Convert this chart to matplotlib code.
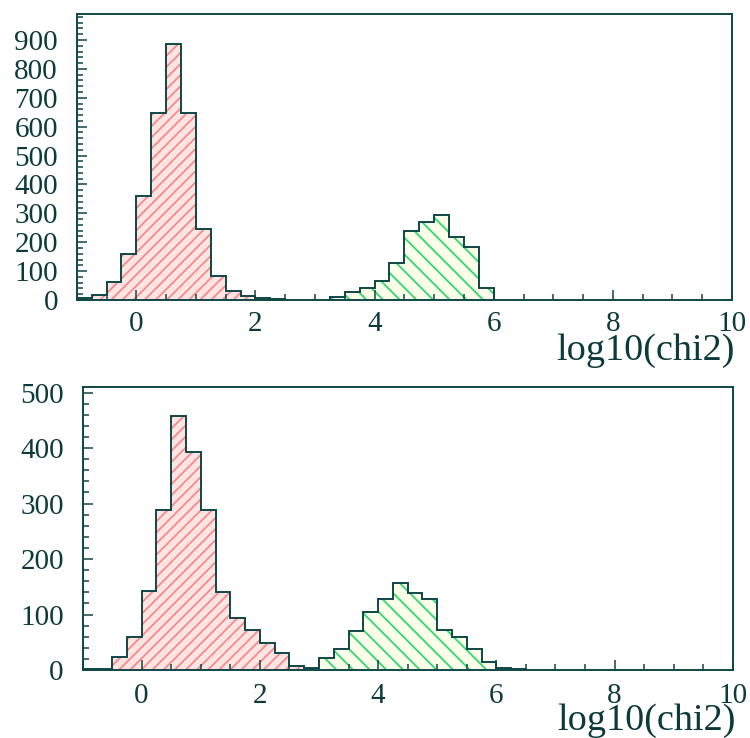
import matplotlib
matplotlib.use("Agg")
import matplotlib.pyplot as plt
from matplotlib.ticker import MultipleLocator

# top panel: log10(chi2) histograms, bin width 0.25
top_red_edges = [-1.0, -0.75, -0.5, -0.25, 0.0, 0.25, 0.5, 0.75, 1.0, 1.25,
                 1.5, 1.75, 2.0, 2.25, 2.5]
top_red_counts = [6, 17, 61, 159, 361, 646, 885, 646, 246, 83, 32, 14, 6, 2]
top_green_edges = [3.25, 3.5, 3.75, 4.0, 4.25, 4.5, 4.75, 5.0, 5.25, 5.5,
                   5.75, 6.0]
top_green_counts = [12, 28, 40, 66, 129, 239, 271, 293, 219, 183, 43]

# bottom panel
bot_red_edges = [-1.0, -0.75, -0.5, -0.25, 0.0, 0.25, 0.5, 0.75, 1.0, 1.25,
                 1.5, 1.75, 2.0, 2.25, 2.5, 2.75, 3.0]
bot_red_counts = [1, 1, 24, 59, 143, 288, 457, 393, 288, 141, 93, 72, 48,
                  30, 8, 3]
bot_green_edges = [3.0, 3.25, 3.5, 3.75, 4.0, 4.25, 4.5, 4.75, 5.0, 5.25,
                   5.5, 5.75, 6.0, 6.25, 6.5]
bot_green_counts = [21, 37, 71, 105, 128, 156, 138, 128, 72, 60, 37, 14, 3, 1]

x_label = "log10(chi2)"

OUTLINE = "#0f4646"
TEXT = "#0d3a3a"
RED_FACE = "#ffe4e4"
RED_HATCH = "#f48a8a"
GREEN_FACE = "#fbffea"
GREEN_HATCH = "#2fd86e"

plt.rcParams["font.family"] = ["Liberation Serif", "DejaVu Serif"]
plt.rcParams["hatch.linewidth"] = 1.3


def draw_hist(ax, edges, counts, face, hatch_col, hatch):
    ax.stairs(counts, edges, fill=True, facecolor=face, edgecolor=hatch_col,
              hatch=hatch, linewidth=0)
    ax.stairs(counts, edges, color=OUTLINE, linewidth=1.4)


def style_axes(ax, ytop, xpad):
    ax.set_xlim(-1, 10)
    ax.set_ylim(0, ytop)
    ax.xaxis.set_major_locator(MultipleLocator(2))
    ax.xaxis.set_minor_locator(MultipleLocator(0.5))
    ax.yaxis.set_major_locator(MultipleLocator(100))
    ax.yaxis.set_minor_locator(MultipleLocator(20))
    ax.tick_params(which="both", direction="in", top=False, right=False,
                   color=OUTLINE, width=1.1, labelcolor=TEXT, labelsize=21)
    ax.tick_params(which="major", length=7.2)
    ax.tick_params(which="minor", length=4.3)
    ax.tick_params(axis="y", pad=13.5)
    ax.tick_params(axis="x", pad=xpad)
    for sp in ax.spines.values():
        sp.set_color(OUTLINE)
        sp.set_linewidth(1.4)
    ax.annotate(x_label, xy=(1, 0), xycoords="axes fraction",
                xytext=(2.2, -43), textcoords="offset points",
                ha="right", va="baseline", fontsize=27.5, color=TEXT)


fig = plt.figure(figsize=(7.5, 7.38), dpi=100)
ax1 = fig.add_axes([0.1023, 0.5935, 0.8737, 0.3875])
ax2 = fig.add_axes([0.11, 0.0921, 0.867, 0.3835])

draw_hist(ax1, top_red_edges, top_red_counts, RED_FACE, RED_HATCH, "///")
draw_hist(ax1, top_green_edges, top_green_counts, GREEN_FACE, GREEN_HATCH, "\\\\")
style_axes(ax1, 990, 8)

draw_hist(ax2, bot_red_edges, bot_red_counts, RED_FACE, RED_HATCH, "///")
draw_hist(ax2, bot_green_edges, bot_green_counts, GREEN_FACE, GREEN_HATCH, "\\\\")
style_axes(ax2, 510, 9.5)

fig.savefig("out.png", dpi=100)
